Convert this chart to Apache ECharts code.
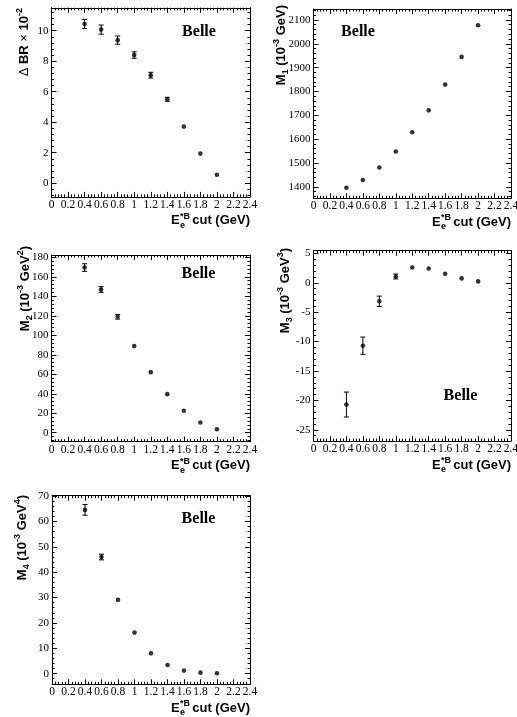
<!DOCTYPE html>
<html><head><meta charset="utf-8">
<script src="https://cdn.jsdelivr.net/npm/echarts@6/dist/echarts.min.js"></script>
<style>html,body{margin:0;padding:0;background:#fff}#c{width:517px;height:717px}</style>
</head><body><div id="c"></div>
<script>
// ---------------- data ----------------
const cuts = [0.4, 0.6, 0.8, 1.0, 1.2, 1.4, 1.6, 1.8, 2.0];
const dBR    = [10.44, 10.07, 9.38, 8.40, 7.08, 5.50, 3.71, 1.94, 0.55];
const dBRErr = [0.30, 0.30, 0.27, 0.21, 0.19, 0.13, 0.06, 0.04, 0.03];
const m1     = [1396, 1429, 1481, 1548, 1629, 1721, 1829, 1945, 2078];
const m1Err  = [4, 4, 3, 3, 3, 2, 2, 2, 2];
const m2     = [169.5, 147.0, 119.0, 88.9, 62.2, 39.6, 22.5, 10.5, 3.6];
const m2Err  = [3.9, 2.9, 2.4, 1.0, 0.7, 0.5, 0.3, 0.2, 0.1];
const m3     = [-20.7, -10.7, -3.15, 1.07, 2.6, 2.43, 1.53, 0.74, 0.23];
const m3Err  = [2.12, 1.47, 0.88, 0.42, 0.15, 0.12, 0.1, 0.08, 0.05];
const m4     = [64.6, 46.0, 29.1, 16.2, 8.0, 3.4, 1.2, 0.4, 0.13];
const m4Err  = [2.1, 1.12, 0.5, 0.3, 0.2, 0.1, 0.05, 0.03, 0.02];

const xTicks  = [0, 0.2, 0.4, 0.6, 0.8, 1, 1.2, 1.4, 1.6, 1.8, 2, 2.2, 2.4];
const yTicks1 = [0, 2, 4, 6, 8, 10];
const yTicks2 = [1400, 1500, 1600, 1700, 1800, 1900, 2000, 2100];
const yTicks3 = [0, 20, 40, 60, 80, 100, 120, 140, 160, 180];
const yTicks4 = [-25, -20, -15, -10, -5, 0, 5];
const yTicks5 = [0, 10, 20, 30, 40, 50, 60, 70];

// ---------------- layout / style ----------------
const SERIF = '"Liberation Serif", "Times New Roman", serif';
const SANS = '"Liberation Sans", Arial, sans-serif';

const panels = [
  {grid:{left:51.5, top:7.8, width:198.5, height:189.1}, yMin:-0.9, yMax:11.5, yTicks:yTicks1, ySub:5, vals:dBR, errs:dBRErr,
   ytitle:'{n|\u0394 }{b|BR }{n|\u00d7 }{b|10}{sup|-2}', yt:[24.5, 8], belle:[199, 31.5]},
  {grid:{left:313.5, top:9, width:197.5, height:189.3}, yMin:1352, yMax:2146, yTicks:yTicks2, ySub:5, vals:m1, errs:m1Err,
   ytitle:'{b|M}{sub|1}{b| (10}{sup|-3}{b| GeV)}', yt:[281.5, 5], belle:[358, 32]},
  {grid:{left:51.5, top:255, width:198.5, height:186.7}, yMin:-9.2, yMax:182.4, yTicks:yTicks3, ySub:5, vals:m2, errs:m2Err,
   ytitle:'{b|M}{sub|2}{b| (10}{sup|-3}{b| GeV}{sup|2}{b|)}', yt:[25, 246], belle:[198.5, 274]},
  {grid:{left:313.5, top:250.7, width:197.5, height:190.3}, yMin:-26.9, yMax:5.45, yTicks:yTicks4, ySub:5, vals:m3, errs:m3Err,
   ytitle:'{b|M}{sub|3}{b| (10}{sup|-3}{b| GeV}{sup|3}{b|)}', yt:[285.5, 248], belle:[460.5, 396]},
  {grid:{left:52, top:495.7, width:198, height:188.6}, yMin:-4.2, yMax:70.2, yTicks:yTicks5, ySub:5, vals:m4, errs:m4Err,
   ytitle:'{b|M}{sub|4}{b| (10}{sup|-3}{b| GeV}{sup|4}{b|)}', yt:[22, 495], belle:[198.5, 519]}
];

function minors(majors, nSub, min, max) {
  const step = (majors[1] - majors[0]) / nSub;
  const out = [];
  let v = majors[0];
  while (v - step >= min - 1e-9) v -= step;
  for (; v <= max + 1e-9; v += step) {
    const r = Math.round(v / step * 1000) / 1000 * step;
    out.push(+r.toFixed(6));
  }
  return out;
}

function fmt(v) { return String(+(+v).toFixed(4)); }

function mkAxis(grid, pos, min, max, ticks, len, withLabels, withLine, isX) {
  return {
    type: 'value', gridIndex: grid, position: pos, min: min, max: max,
    axisLine: {show: withLine, onZero: false, lineStyle: {color: '#000', width: 1}},
    splitLine: {show: false}, minorTick: {show: false}, minorSplitLine: {show: false},
    axisTick: {show: true, inside: true, length: len, customValues: ticks, lineStyle: {color: '#000', width: 1}},
    axisLabel: withLabels ? {show: true, customValues: ticks, formatter: fmt, margin: isX ? 2 : 3,
      fontFamily: SERIF, fontSize: isX ? 11.5 : 11, color: '#000', hideOverlap: false} : {show: false},
    axisPointer: {show: false}, silent: true, z: 5
  };
}

const xAxes = [], yAxes = [], grids = [], series = [], graphics = [];
const xMinor = minors(xTicks, 5, 0, 2.4);

panels.forEach((p, i) => {
  grids.push(Object.assign({show: false, containLabel: false, outerBoundsMode: 'none'}, p.grid));
  const xi = xAxes.length, yi = yAxes.length;
  xAxes.push(mkAxis(i, 'bottom', 0, 2.4, xTicks, 5, true, true, true));
  xAxes.push(mkAxis(i, 'bottom', 0, 2.4, xMinor, 2.5, false, false, true));
  xAxes.push(mkAxis(i, 'top', 0, 2.4, xTicks, 5, false, true, true));
  xAxes.push(mkAxis(i, 'top', 0, 2.4, xMinor, 2.5, false, false, true));
  const yMinor = minors(p.yTicks, p.ySub, p.yMin, p.yMax);
  yAxes.push(mkAxis(i, 'left', p.yMin, p.yMax, p.yTicks, 5, true, true, false));
  yAxes.push(mkAxis(i, 'left', p.yMin, p.yMax, yMinor, 2.5, false, false, false));
  yAxes.push(mkAxis(i, 'right', p.yMin, p.yMax, p.yTicks, 5, false, true, false));
  yAxes.push(mkAxis(i, 'right', p.yMin, p.yMax, yMinor, 2.5, false, false, false));

  const pts = cuts.map((c, k) => [c, p.vals[k], p.errs[k]]);
  series.push({
    type: 'custom', xAxisIndex: xi, yAxisIndex: yi, data: pts, silent: true,
    encode: {x: 0, y: 1},
    renderItem: function (params, api) {
      const x = api.value(0), y = api.value(1), e = api.value(2);
      const top = api.coord([x, y + e]), bot = api.coord([x, y - e]);
      const half = (bot[1] - top[1]) / 2;
      const children = [];
      if (half > 2.4) {
        children.push({type: 'line', shape: {x1: top[0], y1: top[1], x2: bot[0], y2: bot[1]},
          style: {stroke: '#000', lineWidth: 1}});
      }
      if (half > 1.8) {
        children.push({type: 'line', shape: {x1: top[0] - 2.5, y1: top[1], x2: top[0] + 2.5, y2: top[1]}, style: {stroke: '#000', lineWidth: 1}});
        children.push({type: 'line', shape: {x1: bot[0] - 2.5, y1: bot[1], x2: bot[0] + 2.5, y2: bot[1]}, style: {stroke: '#000', lineWidth: 1}});
      }
      return {type: 'group', children: children};
    },
    z: 3
  });
  series.push({
    type: 'scatter', xAxisIndex: xi, yAxisIndex: yi, silent: true,
    data: cuts.map((c, k) => [c, p.vals[k]]),
    symbol: 'circle', symbolSize: 4.6, itemStyle: {color: '#000'}, z: 4
  });

  // Belle label
  graphics.push({type: 'text', x: p.belle[0], y: p.belle[1], silent: true,
    style: {text: 'Belle', font: 'bold 16px ' + SERIF, fill: '#000', align: 'center', verticalAlign: 'middle',
      textAlign: 'center', textVerticalAlign: 'middle'}});

  // Y title (rotated, top-aligned)
  graphics.push({type: 'text', x: p.yt[0], y: p.yt[1], rotation: Math.PI / 2, silent: true,
    style: {text: p.ytitle, fill: '#000', align: 'right', verticalAlign: 'middle',
      textAlign: 'right', textVerticalAlign: 'middle', font: 'bold 13px ' + SANS,
      rich: {
        b: {fontFamily: SANS, fontWeight: 'bold', fontSize: 13, lineHeight: 18, fill: '#000'},
        n: {fontFamily: SANS, fontWeight: 'normal', fontSize: 13, lineHeight: 18, fill: '#000'},
        sup: {fontFamily: SANS, fontWeight: 'bold', fontSize: 9, lineHeight: 9, verticalAlign: 'top', fill: '#000'},
        sub: {fontFamily: SANS, fontWeight: 'bold', fontSize: 9, lineHeight: 9, verticalAlign: 'bottom', fill: '#000'}
      }}});

  // X title: E_e^{*B} cut (GeV), right-aligned to the frame
  const xR = p.grid.left + p.grid.width;
  const yc = p.grid.top + p.grid.height + 24;
  const tx = (t, x, y, size, al) => ({type: 'text', x: x, y: y, silent: true,
    style: {text: t, font: 'bold ' + size + 'px ' + SANS, fill: '#000', align: al, verticalAlign: 'middle',
      textAlign: al, textVerticalAlign: 'middle'}});
  graphics.push(tx('cut (GeV)', xR, yc, 13, 'right'));
  graphics.push(tx('E', xR - 79, yc, 13, 'left'));
  graphics.push(tx('*B', xR - 70, yc - 4.5, 9, 'left'));
  graphics.push(tx('e', xR - 70, yc + 4.5, 9, 'left'));
});

const chart = echarts.init(document.getElementById('c'), null, {renderer: 'canvas'});
chart.setOption({
  animation: false,
  backgroundColor: '#fff',
  grid: grids,
  xAxis: xAxes,
  yAxis: yAxes,
  series: series,
  graphic: graphics
});
</script>
</body></html>
